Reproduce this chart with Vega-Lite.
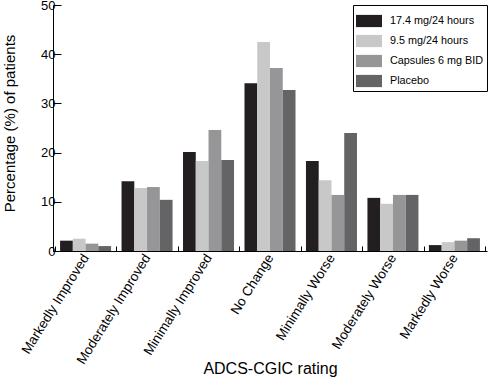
{
  "$schema": "https://vega.github.io/schema/vega-lite/v6.json",
  "width": 434,
  "height": 246,
  "autosize": {"type": "none"},
  "padding": {"left": 53, "top": 5, "right": 2, "bottom": 129},
  "background": "white",
  "config": {
    "view": {"stroke": null},
    "font": "Liberation Sans",
    "axis": {"domainColor": "black", "tickColor": "black", "labelColor": "black", "titleColor": "black", "grid": false, "titleFontWeight": "normal"}
  },
  "data": {
    "values": [
      {"rating": "Markedly Improved", "series": "17.4 mg/24 hours", "pct": 2.1},
      {"rating": "Markedly Improved", "series": "9.5 mg/24 hours", "pct": 2.5},
      {"rating": "Markedly Improved", "series": "Capsules 6 mg BID", "pct": 1.5},
      {"rating": "Markedly Improved", "series": "Placebo", "pct": 1.0},
      {"rating": "Moderately Improved", "series": "17.4 mg/24 hours", "pct": 14.2},
      {"rating": "Moderately Improved", "series": "9.5 mg/24 hours", "pct": 12.8},
      {"rating": "Moderately Improved", "series": "Capsules 6 mg BID", "pct": 13.0},
      {"rating": "Moderately Improved", "series": "Placebo", "pct": 10.4},
      {"rating": "Minimally Improved", "series": "17.4 mg/24 hours", "pct": 20.1},
      {"rating": "Minimally Improved", "series": "9.5 mg/24 hours", "pct": 18.3},
      {"rating": "Minimally Improved", "series": "Capsules 6 mg BID", "pct": 24.6},
      {"rating": "Minimally Improved", "series": "Placebo", "pct": 18.5},
      {"rating": "No Change", "series": "17.4 mg/24 hours", "pct": 34.1},
      {"rating": "No Change", "series": "9.5 mg/24 hours", "pct": 42.5},
      {"rating": "No Change", "series": "Capsules 6 mg BID", "pct": 37.2},
      {"rating": "No Change", "series": "Placebo", "pct": 32.7},
      {"rating": "Minimally Worse", "series": "17.4 mg/24 hours", "pct": 18.3},
      {"rating": "Minimally Worse", "series": "9.5 mg/24 hours", "pct": 14.4},
      {"rating": "Minimally Worse", "series": "Capsules 6 mg BID", "pct": 11.4},
      {"rating": "Minimally Worse", "series": "Placebo", "pct": 24.0},
      {"rating": "Moderately Worse", "series": "17.4 mg/24 hours", "pct": 10.8},
      {"rating": "Moderately Worse", "series": "9.5 mg/24 hours", "pct": 9.6},
      {"rating": "Moderately Worse", "series": "Capsules 6 mg BID", "pct": 11.4},
      {"rating": "Moderately Worse", "series": "Placebo", "pct": 11.4},
      {"rating": "Markedly Worse", "series": "17.4 mg/24 hours", "pct": 1.2},
      {"rating": "Markedly Worse", "series": "9.5 mg/24 hours", "pct": 1.8},
      {"rating": "Markedly Worse", "series": "Capsules 6 mg BID", "pct": 2.1},
      {"rating": "Markedly Worse", "series": "Placebo", "pct": 2.6}
    ]
  },
  "mark": {"type": "bar"},
  "encoding": {
    "x": {
      "field": "rating",
      "type": "nominal",
      "sort": ["Markedly Improved", "Moderately Improved", "Minimally Improved", "No Change", "Minimally Worse", "Moderately Worse", "Markedly Worse"],
      "scale": {"paddingInner": 0, "paddingOuter": 0.03},
      "axis": {
        "title": "ADCS-CGIC rating",
        "titleFontSize": 16,
        "titleY": 122,
        "titleBaseline": "alphabetic",
        "labelAngle": -58,
        "labelFontSize": 13.5,
        "labelAlign": "right",
        "labelBaseline": "middle",
        "labelPadding": 9,
        "tickBand": "extent",
        "tickSize": -5
      }
    },
    "xOffset": {
      "field": "series",
      "type": "nominal",
      "sort": ["17.4 mg/24 hours", "9.5 mg/24 hours", "Capsules 6 mg BID", "Placebo"],
      "scale": {"paddingOuter": 0.41, "paddingInner": 0}
    },
    "y": {
      "field": "pct",
      "type": "quantitative",
      "scale": {"domain": [0, 50], "nice": false},
      "axis": {
        "title": "Percentage (%) of patients",
        "titleFontSize": 15,
        "titleX": -39,
        "titleY": 118,
        "titleBaseline": "alphabetic",
        "titleAngle": -90,
        "values": [0, 10, 20, 30, 40, 50],
        "labelFontSize": 13,
        "labelBaseline": "middle",
        "tickSize": -8,
        "labelPadding": 6
      }
    },
    "color": {
      "field": "series",
      "type": "nominal",
      "sort": ["17.4 mg/24 hours", "9.5 mg/24 hours", "Capsules 6 mg BID", "Placebo"],
      "scale": {"range": ["#231f20", "#c8c8c9", "#969699", "#646467"]},
      "legend": {
        "title": null,
        "orient": "none",
        "legendX": 300,
        "legendY": 0,
        "padding": 3,
        "strokeColor": "black",
        "symbolType": "M-1,-0.47H1V0.47H-1Z",
        "symbolSize": 676,
        "symbolStrokeWidth": 0,
        "labelFontSize": 10.8,
        "labelColor": "black",
        "labelOffset": 8,
        "rowPadding": -2.7
      }
    }
  }
}
